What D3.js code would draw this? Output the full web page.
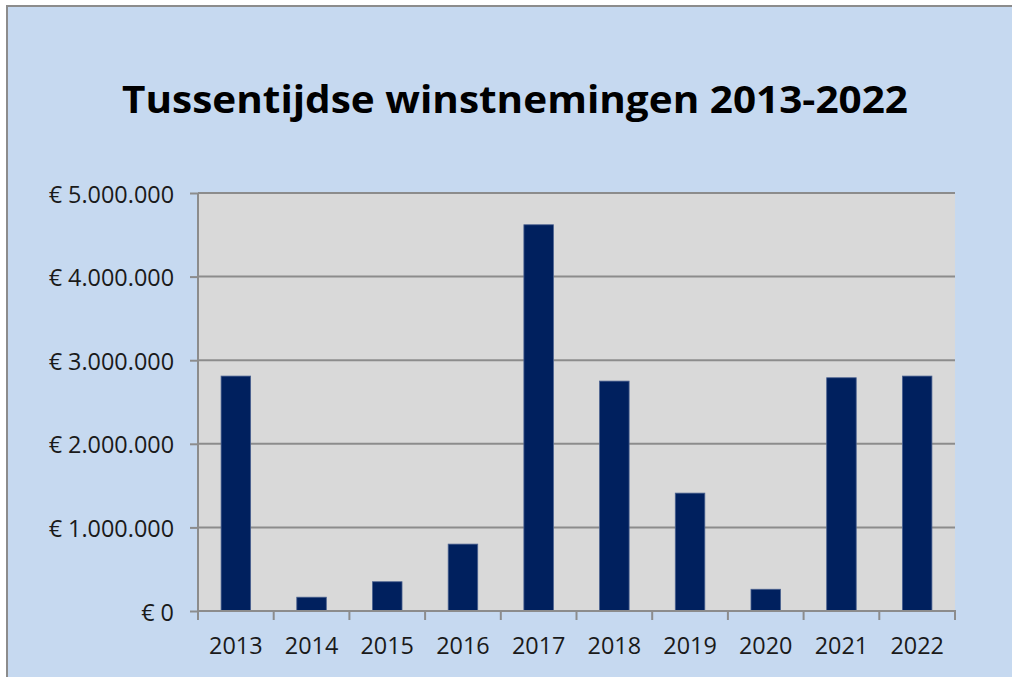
<!DOCTYPE html>
<html>
<head>
<meta charset="utf-8">
<script src="https://cdn.jsdelivr.net/npm/d3@7"></script>
<style>
  body { margin: 0; background: #ffffff; }
  svg { display: block; }
</style>
</head>
<body>
<svg id="vis-svg"></svg>
<script>
// chart data
var years = ["2013", "2014", "2015", "2016", "2017", "2018", "2019", "2020", "2021", "2022"];
var winst = [2810000, 165000, 350000, 800000, 4620000, 2750000, 1410000, 260000, 2790000, 2810000];
var yTicks = [0, 1000000, 2000000, 3000000, 4000000, 5000000];
var titleText = "Tussentijdse winstnemingen 2013-2022";

/**
 * Draws the bar chart with the yearly profits
 */
function winstGraph() {
  var width = 1012;
  var height = 677;

  var plot = { left: 198, right: 955, top: 193, bottom: 611 };

  var svg = d3.select('#vis-svg')
    .attr('width', width)
    .attr('height', height);

  // outer chart area with grey frame
  svg.append('rect')
    .attr('x', 7)
    .attr('y', 6)
    .attr('width', width + 10)
    .attr('height', height + 10)
    .attr('fill', '#c6d9f0')
    .attr('stroke', '#8c8c8c')
    .attr('stroke-width', 2);

  // title
  svg.append('text')
    .attr('x', 515)
    .attr('y', 113)
    .attr('text-anchor', 'middle')
    .attr('font-family', '"Open Sans", sans-serif')
    .attr('font-weight', 'bold')
    .attr('font-size', 37)
    .attr('textLength', 786)
    .attr('lengthAdjust', 'spacingAndGlyphs')
    .attr('fill', '#000')
    .text(titleText);

  // plot background
  svg.append('rect')
    .attr('x', plot.left)
    .attr('y', plot.top)
    .attr('width', plot.right - plot.left)
    .attr('height', plot.bottom - plot.top)
    .attr('fill', '#d9d9d9');

  // scales
  var yScale = d3.scaleLinear()
    .domain([0, 5000000])
    .range([plot.bottom, plot.top]);

  var xScale = d3.scaleBand()
    .domain(years)
    .range([plot.left, plot.right])
    .padding(0);

  var nl = d3.formatLocale({
    decimal: ",",
    thousands: ".",
    grouping: [3],
    currency: ["€ ", ""]
  });
  var euro = nl.format("$,.0f");

  // gridlines
  svg.append('g')
    .selectAll('line')
    .data(yTicks.filter(function(d){return d > 0;}))
    .enter()
    .append('line')
    .attr('x1', plot.left)
    .attr('x2', plot.right)
    .attr('y1', function(d){return yScale(d);})
    .attr('y2', function(d){return yScale(d);})
    .attr('stroke', '#8c8c8c')
    .attr('stroke-width', 2);

  // bars
  var barW = xScale.bandwidth() * 0.39;
  svg.append('g')
    .selectAll('rect')
    .data(winst)
    .enter()
    .append('rect')
    .attr('x', function(d, i){return xScale(years[i]) + (xScale.bandwidth() - barW) / 2;})
    .attr('y', function(d){return yScale(d);})
    .attr('width', barW)
    .attr('height', function(d){return plot.bottom - yScale(d);})
    .attr('fill', '#00205e')
    .attr('stroke', '#4a6190')
    .attr('stroke-width', 0.8);

  // y axis
  var yAxis = svg.append('g')
    .attr('transform', `translate(${plot.left},0)`)
    .call(d3.axisLeft(yScale).tickValues(yTicks).tickFormat(euro).tickSize(8).tickSizeOuter(0));

  yAxis.select('.domain').remove();
  yAxis.selectAll('.tick line')
    .attr('stroke', '#8c8c8c')
    .attr('stroke-width', 2);
  yAxis.selectAll('.tick text')
    .attr('x', -24)
    .attr('dy', null)
    .attr('y', 9)
    .attr('font-family', '"Open Sans", sans-serif')
    .attr('font-size', 23.4)
    .attr('fill', '#1a1a1a');

  // vertical axis line, runs down to the category ticks
  svg.append('line')
    .attr('x1', plot.left)
    .attr('x2', plot.left)
    .attr('y1', plot.top)
    .attr('y2', plot.bottom + 9)
    .attr('stroke', '#8c8c8c')
    .attr('stroke-width', 2);

  // x axis line
  svg.append('line')
    .attr('x1', plot.left)
    .attr('x2', plot.right + 1)
    .attr('y1', plot.bottom)
    .attr('y2', plot.bottom)
    .attr('stroke', '#8c8c8c')
    .attr('stroke-width', 2);

  // category boundary ticks
  var bounds = years.map(function(d){return xScale(d);}).concat([plot.right]);
  svg.append('g')
    .selectAll('line')
    .data(bounds)
    .enter()
    .append('line')
    .attr('x1', function(d){return d;})
    .attr('x2', function(d){return d;})
    .attr('y1', plot.bottom)
    .attr('y2', plot.bottom + 9)
    .attr('stroke', '#8c8c8c')
    .attr('stroke-width', 2);

  // year labels
  svg.append('g')
    .selectAll('text')
    .data(years)
    .enter()
    .append('text')
    .attr('x', function(d){return xScale(d) + xScale.bandwidth() / 2;})
    .attr('y', 654)
    .attr('text-anchor', 'middle')
    .attr('font-family', '"Open Sans", sans-serif')
    .attr('font-size', 23.4)
    .attr('fill', '#1a1a1a')
    .text(function(d){return d;});
}

winstGraph();
</script>
</body>
</html>
